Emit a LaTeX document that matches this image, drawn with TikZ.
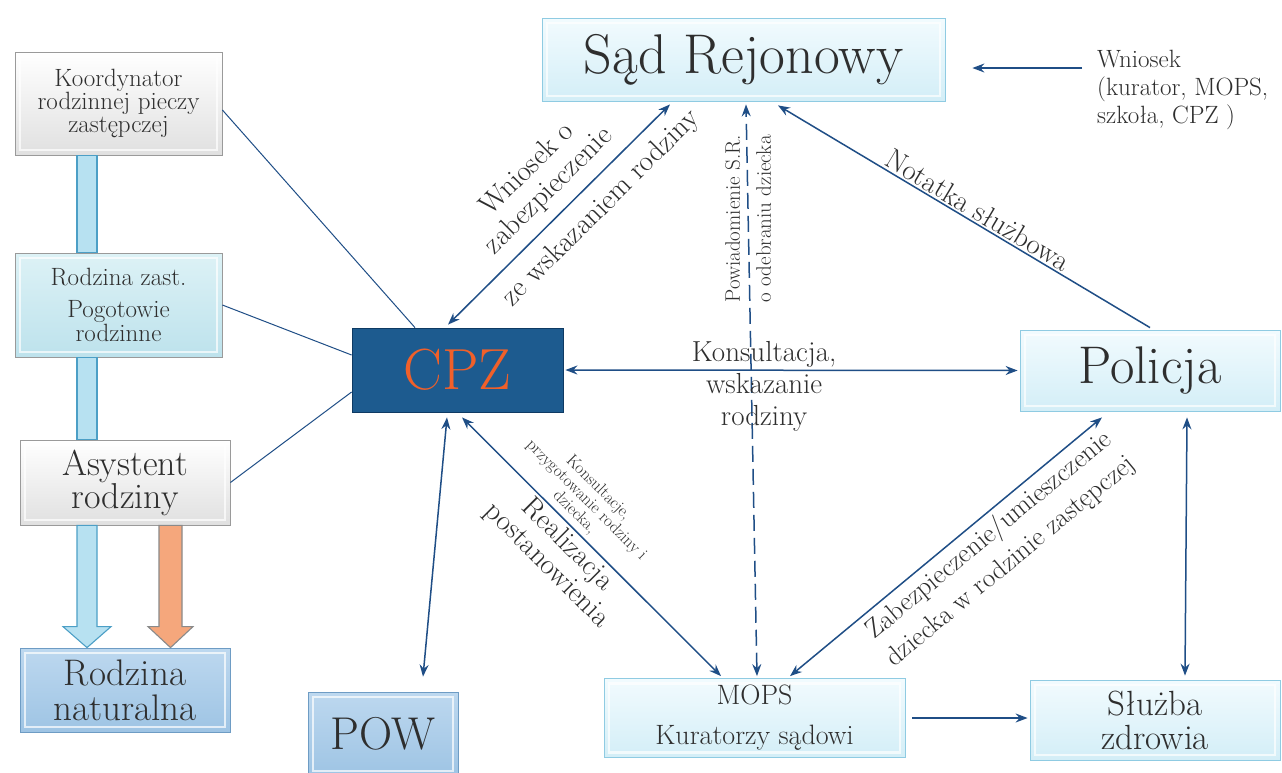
\documentclass[tikz,border=0pt]{standalone}
\usepackage{fontspec}
\usetikzlibrary{arrows.meta,calc}
\definecolor{arr}{HTML}{1F4E86}
\definecolor{cyanA}{HTML}{F2FBFE}
\definecolor{cyanB}{HTML}{D3EEF7}
\definecolor{cyanE}{HTML}{8FCBE2}
\definecolor{grayA}{HTML}{FFFFFF}
\definecolor{grayB}{HTML}{E0E0E0}
\definecolor{grayE}{HTML}{9A9A9A}
\definecolor{rzA}{HTML}{DDF2F6}
\definecolor{rzB}{HTML}{BDE2EC}
\definecolor{blA}{HTML}{BDD8EF}
\definecolor{blB}{HTML}{9EC4E4}
\definecolor{blE}{HTML}{6E9CC4}
\definecolor{cpzF}{HTML}{1D5B8F}
\definecolor{cpzE}{HTML}{0E3A63}
\definecolor{cpzT}{HTML}{F0602A}
\definecolor{barF}{HTML}{B7E1F1}
\definecolor{barE}{HTML}{4C9FC6}
\definecolor{orF}{HTML}{F5A77C}
\definecolor{orE}{HTML}{8A8A8A}
\definecolor{txt}{HTML}{2E2E2E}
\newcommand\fsz[2]{\fontsize{#1}{#2}\selectfont}
\tikzset{mytip/.tip={Stealth[length=12pt,width=9pt,inset=4pt]}}
\begin{document}
\begin{tikzpicture}[x=1pt,y=-1pt,
  box/.style={rectangle, draw, align=center, inner sep=0pt, text=txt, line width=0.8pt},
  bevel/.style={path picture={\draw[white,opacity=0.7,line width=2.5pt]
     ([shift={(5pt,-5pt)}]path picture bounding box.north west) rectangle
     ([shift={(-5pt,5pt)}]path picture bounding box.south east);}},
  cyanbox/.style={box, bevel, draw=cyanE, top color=cyanA, bottom color=cyanB},
  graybox/.style={box, bevel, draw=grayE, top color=grayA, bottom color=grayB},
  rzbox/.style={box, bevel, draw=grayE, top color=rzA, bottom color=rzB},
  bluebox/.style={box, bevel, draw=blE, top color=blA, bottom color=blB},
  con/.style={draw=arr, line width=1.5pt},
  thin/.style={draw=arr, line width=1pt},
  bi/.style={con, mytip-mytip},
  one/.style={con, -mytip},
  lbl/.style={text=txt, align=center, inner sep=2pt},
  bar/.style={fill=barF, draw=barE, line width=1.1pt},
  obar/.style={fill=orF, draw=orE, line width=1.1pt}
]
\useasboundingbox (0,0) rectangle (1282,772);
\fill[white] (0,0) rectangle (1282,772);

% nodes
\node[graybox, minimum width=207, minimum height=103, font=\fsz{25}{23}] (koord) at (118.5,103.5)
  {Koordynator\\rodzinnej pieczy\\zastępczej};
\node[rzbox, minimum width=207, minimum height=104, font=\fsz{25}{24}] (rzast) at (118.5,305)
  {Rodzina zast.\\[8pt]Pogotowie\\rodzinne};
\node[graybox, minimum width=210, minimum height=85, font=\fsz{36}{33}] (asyst) at (125,482.5)
  {Asystent\\rodziny};
\node[bluebox, minimum width=210, minimum height=84, font=\fsz{37}{35}] (rnat) at (125,690)
  {Rodzina\\naturalna};
\node[bluebox, minimum width=150, minimum height=84, font=\fsz{46}{46}] (pow) at (383,734)
  {POW};
\node[box, draw=cpzE, fill=cpzF, text=cpzT, minimum width=211, minimum height=84, font=\fsz{58}{58}] (cpz) at (457.5,370)
  {CPZ};
\node[cyanbox, minimum width=403, minimum height=83, font=\fsz{56}{56}] (sad) at (743.5,59.5)
  {Sąd Rejonowy};
\node[cyanbox, minimum width=260, minimum height=81, font=\fsz{53}{53}] (pol) at (1150,370.5)
  {Policja};
\node[cyanbox, minimum width=301, minimum height=79, font=\fsz{28}{40}] (mops) at (754.5,718)
  {MOPS\\Kuratorzy sądowi};
\node[cyanbox, minimum width=250, minimum height=80, font=\fsz{35}{34}] (slz) at (1155,720)
  {Służba\\zdrowia};
\node[lbl, align=left, anchor=north west, inner sep=0pt, font=\fsz{25}{28}] (wn) at (1097,50)
  {Wniosek\\(kurator, MOPS,\\szkoła, CPZ )};

% wide bars and arrows on the left
\draw[bar] ($(koord.south)+(-41.5,0)$) rectangle ($(rzast.north)+(-21.5,0)$);
\draw[bar] ($(rzast.south)+(-41.5,0)$) rectangle ($(asyst.north)+(-28,0)$);
\draw[bar] ($(asyst.south)+(-48,0)$) -- ($(rnat.north)+(-48,-21)$) -- ($(rnat.north)+(-62,-21)$)
  -- ($(rnat.north)+(-38,0)$) -- ($(rnat.north)+(-14,-21)$) -- ($(rnat.north)+(-28,-21)$)
  -- ($(asyst.south)+(-28,0)$) -- cycle;
\draw[obar] ($(asyst.south)+(34,0)$) -- ($(rnat.north)+(34,-21)$) -- ($(rnat.north)+(23,-21)$)
  -- ($(rnat.north)+(45.5,0)$) -- ($(rnat.north)+(68,-21)$) -- ($(rnat.north)+(57,-21)$)
  -- ($(asyst.south)+(57,0)$) -- cycle;

% thin lines to CPZ
\draw[thin] ($(koord.east)+(0,6.5)$) -- ($(cpz.north)+(-42.5,0)$);
\draw[thin] (rzast.east) -- ($(cpz.west)+(0,-15)$);
\draw[thin] (asyst.east) -- ($(cpz.west)+(0,22)$);

% connectors
\draw[bi] ($(cpz.north)+(-9.5,-3)$) -- ($(sad.south)+(-73.5,3)$)
  node[lbl, pos=0.53, sloped, above=8pt, font=\fsz{29}{30}]{Wniosek o\\zabezpieczenie}
  node[lbl, pos=0.61, sloped, below=10pt, font=\fsz{29}{30}]{ze wskazaniem rodziny};
\draw[bi, dash pattern=on 16pt off 7pt] ($(mops.north)+(2.5,-2)$) -- ($(sad.south)+(2.5,3)$)
  node[lbl, pos=0.8, rotate=90, font=\fsz{21}{31}]{Powiadomienie S.R.\\o odebraniu dziecka};
\draw[one] ($(pol.north)+(0,-2)$) -- ($(sad.south)+(34.5,4)$)
  node[lbl, pos=0.48, sloped, above=0pt, font=\fsz{29}{30}]{Notatka służbowa};
\draw[one] ($(wn.north west)+(-15,18)$) -- ($(sad.east)+(27,8.5)$);
\draw[bi, shorten <=2pt, shorten >=2pt] (cpz.east) -- (pol.west)
  node[lbl, pos=0.44, above=0pt, font=\fsz{29}{32}]{Konsultacja,}
  node[lbl, pos=0.44, below=0pt, font=\fsz{29}{32}]{wskazanie\\rodziny};
\draw[bi] ($(cpz.south)+(-10.5,5)$) -- ($(pow.north)+(40,-15)$);
\draw[bi] ($(cpz.south)+(4.5,5)$) -- ($(mops.north)+(-33.5,-2)$)
  node[lbl, pos=0.4, sloped, above=2pt, font=\fsz{17}{17}]{Konsultacje,\\przygotowanie rodziny i\\dziecka,}
  node[lbl, pos=0.45, sloped, below=0pt, font=\fsz{29}{29}]{Realizacja\\postanowienia};
\draw[bi] ($(mops.north)+(35.5,-2)$) -- ($(pol.south)+(-48,6)$)
  node[lbl, pos=0.6, sloped, below=3pt, font=\fsz{27}{34}]{Zabezpieczenie/umieszczenie\\dziecka w rodzinie zastępczej};
\draw[bi] ($(pol.south)+(37,6)$) -- ($(slz.north)+(30,-4)$);
\draw[one, shorten <=7pt, shorten >=2pt] (mops.east) -- (slz.west |- mops.east);
\end{tikzpicture}
\end{document}
